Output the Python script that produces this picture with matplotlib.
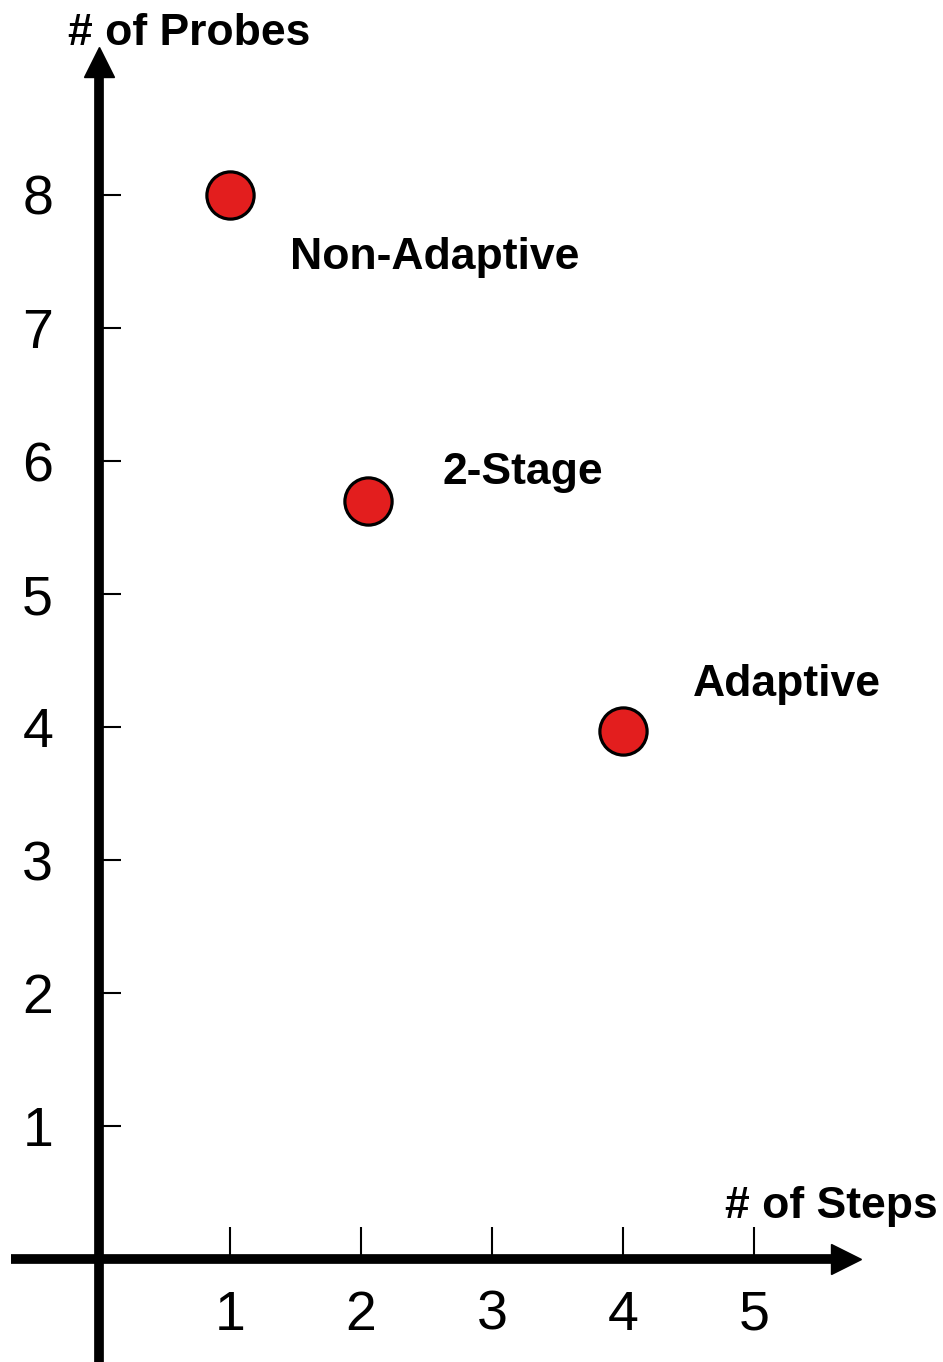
import numpy as np
import matplotlib
matplotlib.use('Agg')
import matplotlib.pyplot as plt

plt.rcParams['font.family'] = ['Liberation Sans', 'DejaVu Sans']

# data
methods = ['Non-Adaptive', '2-Stage', 'Adaptive']
steps = [1, 2.05, 4]
probes = [8, 5.7, 3.97]
# label anchors (left, baseline)
label_x = [1.46, 2.62, 4.53]
label_y = [7.44, 5.83, 4.23]

xticks = [1, 2, 3, 4, 5]
yticks = [1, 2, 3, 4, 5, 6, 7, 8]

fig = plt.figure(figsize=(9.43, 13.62), dpi=100)
ax = fig.add_axes([0, 0, 1, 1])
ax.set_xlim(-0.756, 6.443)
ax.set_ylim(-0.774, 9.466)

# axes through origin
for s in ['top', 'right']:
    ax.spines[s].set_visible(False)
ax.spines['left'].set_position(('data', 0))
ax.spines['bottom'].set_position(('data', 0))
ax.spines['left'].set_linewidth(7)
ax.spines['bottom'].set_linewidth(7)
ax.spines['left'].set_bounds(-0.774, 8.95)
ax.spines['bottom'].set_bounds(-0.67, 5.62)
ax.spines['left'].set_capstyle('butt')
ax.spines['bottom'].set_capstyle('butt')

# arrow heads
ax.plot(0, 9.0, marker='^', ms=21, color='k', clip_on=False, zorder=5)
ax.plot(5.7, 0, marker='>', ms=21, color='k', clip_on=False, zorder=5)

ax.set_xticks(xticks)
ax.set_yticks(yticks)
ax.set_xticklabels([str(v) for v in xticks])
ax.set_yticklabels([str(v) for v in yticks])
ax.tick_params(axis='x', direction='in', length=23, width=1.5, pad=22, labelsize=40)
ax.tick_params(axis='y', direction='in', length=16, width=1.5, pad=33, labelsize=40)

ax.plot(steps, probes, 'o', ms=34, mfc='#e31e1e', mec='k', mew=2.3, zorder=6)

for name, lx, ly in zip(methods, label_x, label_y):
    ax.text(lx, ly, name, fontsize=32, fontweight='bold', ha='left', va='baseline')

ax.text(-0.24, 9.13, '# of Probes', fontsize=32, fontweight='bold', ha='left', va='baseline')
ax.text(4.78, 0.31, '# of Steps', fontsize=32, fontweight='bold', ha='left', va='baseline')

fig.savefig('out.png', dpi=100)
